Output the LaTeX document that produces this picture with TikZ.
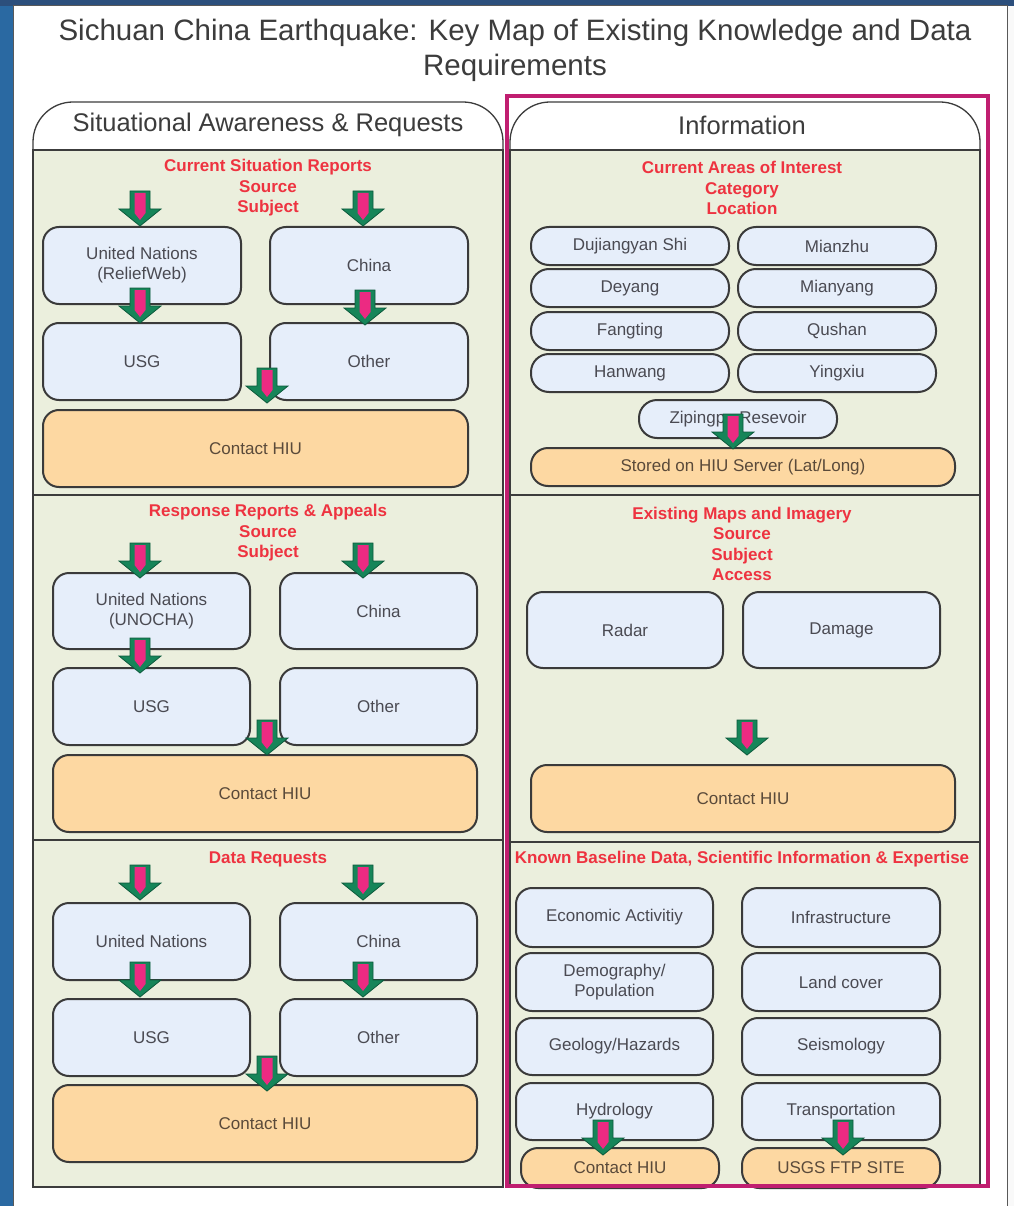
\documentclass[tikz,border=0pt]{standalone}
\usepackage{fontspec}
\setmainfont{Liberation Sans}
\definecolor{bgblue}{HTML}{2A69A2}
\definecolor{topblue}{HTML}{2C4F7C}
\definecolor{linegray}{HTML}{3C3C3C}
\definecolor{sectfill}{HTML}{EBEFDD}
\definecolor{boxblue}{HTML}{E6EEFA}
\definecolor{boxorange}{HTML}{FDD8A2}
\definecolor{boxline}{HTML}{3A3A3A}
\definecolor{boxtext}{HTML}{4A4A52}
\definecolor{orangetext}{HTML}{5A4A3A}
\definecolor{headred}{HTML}{EE3340}
\definecolor{frame}{HTML}{C01E70}
\definecolor{arrgreen}{HTML}{168559}
\definecolor{arrdark}{HTML}{0C5A3C}
\definecolor{arrpink}{HTML}{EC2A82}
\newcommand{\mkbox}[7]{% name, style, x1, y1, x2, y2, text
  \pgfmathsetmacro{\bw}{#5-#3}\pgfmathsetmacro{\bh}{#6-#4}%
  \node[#2, minimum width=\bw pt, minimum height=\bh pt] (#1) at ({(#3+#5)/2},{(#4+#6)/2}) {#7};}
\tikzset{
  sect/.style={draw=linegray, line width=1.6, fill=sectfill},
  tabshape/.style={draw=linegray, line width=1.3, fill=white, rounded corners=40},
  bluebox/.style={draw=boxline, line width=2, fill=boxblue, rounded corners=16,
    text=boxtext, font=\fontsize{17}{20}\selectfont, align=center, inner sep=0pt},
  orangebox/.style={bluebox, fill=boxorange, text=orangetext},
  bluepill/.style={bluebox, rounded corners=18},
  orangepill/.style={orangebox, rounded corners=17},
  headtext/.style={text=headred, font=\bfseries\fontsize{17}{20.5}\selectfont, align=center},
  tabtext/.style={text=linegray, font=\fontsize{25.5}{30}\selectfont},
  dnarrow/.pic={
    \filldraw[fill=arrgreen, draw=arrdark, line width=0.8, line join=miter]
      (-10,-35) -- (10,-35) -- (10,-17) -- (21,-17) -- (0,0) -- (-21,-17) -- (-10,-17) -- cycle;
    \fill[arrpink] (-5.5,-33) -- (5.5,-33) -- (5.5,-13) -- (0,-6) -- (-5.5,-13) -- cycle;
  }
}
\begin{document}
\begin{tikzpicture}[x=1pt, y=-1pt]
\useasboundingbox (0,0) rectangle (1014,1206);
% backdrop and page panel
\fill[bgblue] (0,0) rectangle (1014,1206);
\fill[topblue] (0,0) rectangle (1014,6);
\fill[white!95!gray] (1007,6) rectangle (1014,1206);
\filldraw[fill=white, draw=gray!70!black, line width=1] (13,6) rectangle (1007,1210);

% title
\node[text=linegray, font=\fontsize{29.5}{35}\selectfont, align=center] (title) at (515,50)
  {Sichuan China Earthquake: Key Map of Existing Knowledge and Data\\Requirements};

% ---------- left column ----------
\draw[tabshape] (33,150) -- (33,102) -- (503,102) -- (503,150);
\node[tabtext] (lefttab) at (268,125) {Situational Awareness \& Requests};
\draw[sect] (33,150) rectangle (503,495);
\draw[sect] (33,495) rectangle (503,840);
\draw[sect] (33,840) rectangle (503,1187);

% situation reports
\node[headtext] (h1) at (268,188) {Current Situation Reports\\Source\\Subject};
\mkbox{unA}{bluebox}{43}{227}{241}{304}{United Nations\\(ReliefWeb)}
\mkbox{cnA}{bluebox}{270}{227}{468}{304}{China}
\mkbox{usA}{bluebox}{43}{323}{241}{400}{USG}
\mkbox{otA}{bluebox}{270}{323}{468}{400}{Other}
\mkbox{hiuA}{orangebox}{43}{410}{468}{487}{Contact HIU}
\pic at (140,226) {dnarrow};
\pic at (363,226) {dnarrow};
\pic at (140,323) {dnarrow};
\pic at (365,325) {dnarrow};
\pic at (267,403) {dnarrow};

% response reports
\node[headtext] (h2) at (268,533) {Response Reports \& Appeals\\Source\\Subject};
\mkbox{unB}{bluebox}{53}{573}{250}{649}{United Nations\\(UNOCHA)}
\mkbox{cnB}{bluebox}{280}{573}{477}{649}{China}
\mkbox{usB}{bluebox}{53}{668}{250}{745}{USG}
\mkbox{otB}{bluebox}{280}{668}{477}{745}{Other}
\mkbox{hiuB}{orangebox}{53}{755}{477}{832}{Contact HIU}
\pic at (140,578) {dnarrow};
\pic at (363,578) {dnarrow};
\pic at (140,673) {dnarrow};
\pic at (267,755) {dnarrow};

% data requests
\node[headtext] (h3) at (268,859) {Data Requests};
\mkbox{unC}{bluebox}{53}{903}{250}{980}{United Nations}
\mkbox{cnC}{bluebox}{280}{903}{477}{980}{China}
\mkbox{usC}{bluebox}{53}{999}{250}{1076}{USG}
\mkbox{otC}{bluebox}{280}{999}{477}{1076}{Other}
\mkbox{hiuC}{orangebox}{53}{1085}{477}{1162}{Contact HIU}
\pic at (140,900) {dnarrow};
\pic at (363,900) {dnarrow};
\pic at (140,997) {dnarrow};
\pic at (363,997) {dnarrow};
\pic at (267,1091) {dnarrow};

% ---------- right column ----------
\draw[tabshape] (510,150) -- (510,102) -- (980,102) -- (980,150);
\node[tabtext] (righttab) at (742,125) {Information};
\draw[sect] (510,150) rectangle (980,495);
\draw[sect] (510,495) rectangle (980,842);
\draw[sect] (510,842) rectangle (980,1187);

% areas of interest
\node[headtext] (h4) at (742,188) {Current Areas of Interest\\Category\\Location};
\mkbox{dujiang}{bluepill}{531}{227}{729}{265}{Dujiangyan Shi}
\mkbox{mianzhu}{bluepill}{738}{227}{936}{265}{Mianzhu}
\mkbox{deyang}{bluepill}{531}{269}{729}{307}{Deyang}
\mkbox{mianyang}{bluepill}{738}{269}{936}{307}{Mianyang}
\mkbox{fangting}{bluepill}{531}{312}{729}{350}{Fangting}
\mkbox{qushan}{bluepill}{738}{312}{936}{350}{Qushan}
\mkbox{hanwang}{bluepill}{531}{354}{729}{392}{Hanwang}
\mkbox{yingxiu}{bluepill}{738}{354}{936}{392}{Yingxiu}
\mkbox{ziping}{bluepill}{639}{400}{837}{438}{Zipingpu Resevoir}
\mkbox{server}{orangepill}{531}{448}{955}{486}{Stored on HIU Server (Lat/Long)}
\pic at (733,449) {dnarrow};

% maps and imagery
\node[headtext] (h5) at (742,544) {Existing Maps and Imagery\\Source\\Subject\\Access};
\mkbox{radar}{bluebox}{527}{592}{723}{668}{Radar}
\mkbox{damage}{bluebox}{743}{592}{940}{668}{Damage}
\mkbox{hiuD}{orangebox}{531}{765}{955}{832}{Contact HIU}
\pic at (747,755) {dnarrow};

% baseline data
\node[headtext] (h6) at (742,859) {Known Baseline Data, Scientific Information \& Expertise};
\mkbox{econ}{bluebox}{516}{888}{713}{947}{Economic Activitiy}
\mkbox{infra}{bluebox}{742}{888}{940}{947}{Infrastructure}
\mkbox{demo}{bluebox}{516}{953}{713}{1011}{Demography/\\Population}
\mkbox{land}{bluebox}{742}{953}{940}{1011}{Land cover}
\mkbox{geo}{bluebox}{516}{1018}{713}{1075}{Geology/Hazards}
\mkbox{seis}{bluebox}{742}{1018}{940}{1075}{Seismology}
\mkbox{hydro}{bluebox}{516}{1083}{713}{1140}{Hydrology}
\mkbox{trans}{bluebox}{742}{1083}{940}{1140}{Transportation}
\mkbox{hiuE}{orangepill}{521}{1148}{719}{1188}{Contact HIU}
\mkbox{ftp}{orangepill}{742}{1148}{940}{1188}{USGS FTP SITE}
\pic at (603,1155) {dnarrow};
\pic at (843,1155) {dnarrow};

% highlight frame round the information column
\draw[frame, line width=4.5] (507,96) rectangle (988,1186);
\end{tikzpicture}
\end{document}
